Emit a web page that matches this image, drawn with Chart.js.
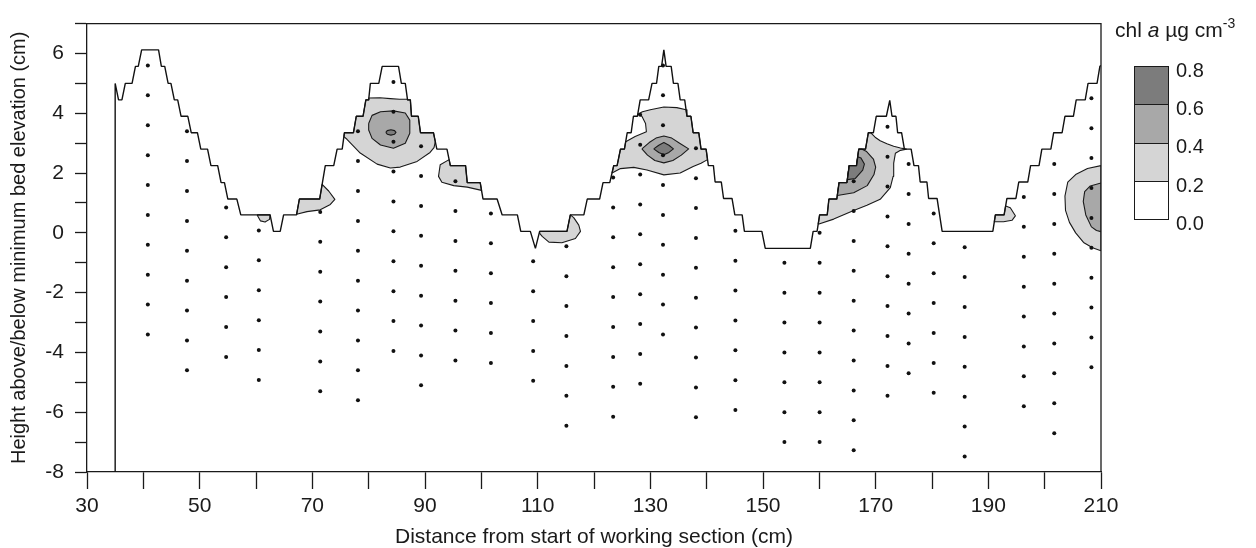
<!DOCTYPE html>
<html>
<head>
<meta charset="utf-8">
<script src="https://cdn.jsdelivr.net/npm/chart.js@4.4.1/dist/chart.umd.min.js"></script>
<style>
  html, body { margin: 0; padding: 0; background: #fff; }
  #wrap { position: relative; width: 1256px; height: 548px; font-family: "Liberation Sans", Arial, Helvetica, sans-serif; color: #1a1a1a; }
  #chart { position: absolute; left: 0; top: 0; }
  .leg-title { position: absolute; left: 1115px; top: 19px; font-size: 21px; line-height: 1; white-space: nowrap; }
  .leg-title sup { font-size: 14px; vertical-align: 0; position: relative; top: -9px; }
  .swatch { position: absolute; left: 1134px; width: 35px; box-sizing: border-box; border: 1.3px solid #1a1a1a; }
  .leg-label { position: absolute; left: 1176px; font-size: 20px; line-height: 1; }
</style>
</head>
<body>
<div id="wrap">
  <canvas id="chart" width="1256" height="548"></canvas>
  <div class="leg-title">chl <i>a</i> µg cm<sup>-3</sup></div>
  <div class="swatch" style="top:66px;height:39px;background:#7c7c7c"></div>
  <div class="swatch" style="top:104px;height:40px;background:#a8a8a8"></div>
  <div class="swatch" style="top:143px;height:39px;background:#d5d5d5"></div>
  <div class="swatch" style="top:181px;height:39px;background:#ffffff"></div>
  <div class="leg-label" style="top:60px">0.8</div>
  <div class="leg-label" style="top:98px">0.6</div>
  <div class="leg-label" style="top:136px">0.4</div>
  <div class="leg-label" style="top:175px">0.2</div>
  <div class="leg-label" style="top:213px">0.0</div>
</div>
<script>
// ==================== DATA ====================

// bed surface profile, [distance cm, height cm]
const bedProfile = [
  [35,-8],[35,5.0],[35.6,4.45],[36.2,4.45],[36.8,5.0],[38.0,5.0],[38.6,5.57],[39.1,5.57],[39.7,6.12],[42.7,6.12],
  [43.2,5.57],[43.8,5.57],[44.4,5.0],[44.9,5.0],[45.5,4.45],[46.1,4.45],[46.7,3.9],[47.9,3.9],[48.5,3.35],[49.6,3.35],
  [50.2,2.8],[51.4,2.8],[52.0,2.25],[53.2,2.25],[53.8,1.68],[54.4,1.68],[55.0,1.13],[56.6,1.13],[57.3,0.6],[62.5,0.6],
  [63.1,0.05],[64.3,0.05],[64.9,0.6],[67.2,0.6],[67.7,1.13],[71.3,1.13],[72.3,2.25],[73.8,2.25],[74.4,2.8],[75.3,2.8],
  [75.7,3.35],[77.3,3.35],[77.8,3.9],[79.0,3.9],[79.5,4.45],[80.0,4.45],[80.3,5.0],[81.8,5.0],[82.4,5.57],[85.3,5.57],
  [85.8,5.0],[86.5,5.0],[86.9,4.45],[87.4,4.45],[87.6,3.9],[88.8,3.9],[89.2,3.35],[91.5,3.35],[92.1,2.8],[93.9,2.8],
  [94.5,2.25],[97.2,2.25],[97.5,1.68],[99.8,1.68],[100.3,1.13],[102.8,1.13],[103.7,0.6],[106.4,0.6],[107.0,0.05],[108.7,0.05],
  [109.6,-0.52],[110.35,0.05],[115.2,0.05],[115.8,0.6],[118.2,0.6],[118.8,1.13],[121.0,1.13],[121.6,1.68],[122.8,1.68],[123.5,2.25],
  [124.1,2.25],[124.7,2.8],[125.4,2.8],[125.9,3.35],[126.6,3.35],[127.0,3.9],[127.7,3.9],[128.2,4.45],[129.7,4.45],[130.3,5.0],
  [131.1,5.0],[131.5,5.57],[132.0,5.57],[132.4,6.12],[132.8,5.57],[133.7,5.57],[134.1,5.0],[134.9,5.0],[135.3,4.45],[136.1,4.45],
  [136.5,3.9],[137.2,3.9],[137.6,3.35],[138.6,3.35],[139.0,2.8],[139.9,2.8],[140.3,2.25],[141.2,2.25],[141.5,1.7],[142.6,1.7],
  [143.0,1.15],[144.5,1.15],[145.0,0.6],[146.3,0.6],[146.7,0.05],[149.8,0.05],[150.4,-0.52],[158.4,-0.52],[158.9,0.05],[159.6,0.05],
  [160.05,0.6],[161.4,0.6],[161.7,1.13],[163.1,1.13],[163.5,1.68],[164.9,1.68],[165.3,2.25],[166.6,2.25],[167.0,2.8],[168.2,2.8],
  [168.7,3.35],[169.6,3.35],[170.1,3.9],[171.9,3.9],[172.5,4.43],[172.9,3.9],[173.6,3.9],[173.9,3.35],[174.6,3.35],[175.1,2.8],
  [176.3,2.8],[176.8,2.25],[177.6,2.25],[177.9,1.7],[179.1,1.7],[179.4,1.15],[180.9,1.15],[181.8,0.05],[190.8,0.05],[191.25,0.6],
  [192.8,0.6],[193.3,1.15],[194.9,1.15],[195.4,1.7],[197.0,1.7],[197.5,2.25],[199.0,2.25],[199.5,2.8],[201.1,2.8],[201.6,3.35],
  [203.1,3.35],[203.6,3.9],[205.1,3.9],[205.6,4.45],[207.2,4.45],[207.7,5.0],[209.3,5.0],[209.8,5.57],[210,5.6]
];

// sampling positions: one x per core column, heights listed top to bottom
const coreX = [40.8, 47.75, 54.7, 60.5, 71.4, 78.1, 84.4, 89.3, 95.4, 101.7, 109.2, 115.1, 123.4, 128.2,
               132.25, 138.1, 145.1, 153.8, 160.05, 166.1, 172.1, 175.85, 180.3, 185.8, 196.3, 201.7, 208.3];
const coreY = [
  [5.6, 4.6, 3.6, 2.6, 1.6, 0.6, -0.4, -1.4, -2.4, -3.4],
  [3.4, 2.4, 1.4, 0.4, -0.6, -1.6, -2.6, -3.6, -4.6],
  [0.85, -0.15, -1.15, -2.15, -3.15, -4.15],
  [0.08, -0.92, -1.92, -2.92, -3.92, -4.92],
  [0.7, -0.3, -1.3, -2.3, -3.3, -4.3, -5.3],
  [3.4, 2.4, 1.4, 0.4, -0.6, -1.6, -2.6, -3.6, -4.6, -5.6],
  [5.05, 4.05, 3.05, 2.05, 1.05, 0.05, -0.95, -1.95, -2.95, -3.95],
  [2.9, 1.9, 0.9, -0.1, -1.1, -2.1, -3.1, -4.1, -5.1],
  [1.73, 0.73, -0.27, -1.27, -2.27, -3.27, -4.27],
  [0.65, -0.35, -1.35, -2.35, -3.35, -4.35],
  [-0.95, -1.95, -2.95, -3.95, -4.95],
  [-0.45, -1.45, -2.45, -3.45, -4.45, -5.45, -6.45],
  [1.85, 0.85, -0.15, -1.15, -2.15, -3.15, -4.15, -5.15, -6.15],
  [3.95, 2.95, 1.95, 0.95, -0.05, -1.05, -2.05, -3.05, -4.05, -5.05],
  [5.6, 4.6, 3.6, 2.6, 1.6, 0.6, -0.4, -1.4, -2.4, -3.4],
  [2.83, 1.83, 0.83, -0.17, -1.17, -2.17, -3.17, -4.17, -5.17, -6.17],
  [0.07, -0.93, -1.93, -2.93, -3.93, -4.93, -5.93],
  [-1, -2, -3, -4, -5, -6, -7],
  [0, -1, -2, -3, -4, -5, -6, -7],
  [1.73, 0.73, -0.27, -1.27, -2.27, -3.27, -4.27, -5.27, -6.27, -7.27],
  [3.55, 2.55, 1.55, 0.55, -0.45, -1.45, -2.45, -3.45, -4.45, -5.45],
  [2.3, 1.3, 0.3, -0.7, -1.7, -2.7, -3.7, -4.7],
  [0.65, -0.35, -1.35, -2.35, -3.35, -4.35, -5.35],
  [-0.48, -1.48, -2.48, -3.48, -4.48, -5.48, -6.48, -7.48],
  [1.2, 0.2, -0.8, -1.8, -2.8, -3.8, -4.8, -5.8],
  [2.3, 1.3, 0.3, -0.7, -1.7, -2.7, -3.7, -4.7, -5.7, -6.7],
  [4.5, 3.5, 2.5, 1.5, 0.5, -0.5, -1.5, -2.5, -3.5, -4.5]
];

// contour bands (chl a, µg cm-3)
const band02 = [   // 0.2 - 0.4
  [[60.2,0.6],[62.5,0.6],[62.4,0.45],[61.6,0.36],[60.8,0.4],[60.2,0.6]],
  [[67.2,0.62],[67.7,1.13],[71.3,1.13],[71.74,1.62],[72.9,1.4],[74.0,1.12],[73.2,0.95],[71.4,0.77],[69.05,0.71],[67.2,0.62]],
  [[75.6,3.22],[75.7,3.35],[77.3,3.35],[77.8,3.9],[79.0,3.9],[79.5,4.45],[80.0,4.45],[80.03,4.51],[82.0,4.52],[83.85,4.49],
   [85.5,4.47],[86.88,4.47],[86.9,4.45],[87.4,4.45],[87.6,3.9],[88.8,3.9],[89.2,3.35],[91.5,3.35],[91.83,3.05],[91.6,2.85],
   [90.9,2.69],[88.6,2.39],[85.6,2.2],[83.85,2.17],[81.5,2.3],[78.5,2.67],[76.15,3.13],[75.6,3.22]],
  [[94.28,2.45],[92.7,2.28],[92.4,1.89],[93.0,1.69],[95.1,1.58],[97.5,1.53],[100.04,1.42],[99.8,1.68],[97.5,1.68],[97.2,2.25],
   [94.5,2.25],[94.28,2.45]],
  [[110.29,0.0],[110.35,0.05],[115.2,0.05],[115.8,0.6],[116.4,0.51],[117.3,0.26],[117.6,0.05],[116.7,-0.19],[114.3,-0.33],
   [112.0,-0.31],[110.8,-0.12],[110.29,0.0]],
  [[123.2,2.0],[123.5,2.25],[124.1,2.25],[124.7,2.8],[125.4,2.8],[125.63,3.05],[127.3,3.22],[129.3,3.38],[129.15,3.66],
   [128.5,3.9],[127.76,3.97],[128.6,4.05],[130.0,4.12],[132.4,4.21],[134.7,4.19],[136.34,4.12],[136.5,3.9],[137.2,3.9],
   [137.6,3.35],[138.6,3.35],[139.0,2.8],[139.9,2.8],[140.15,2.45],[139.0,2.33],[137.6,2.22],[135.3,2.0],[132.4,1.94],
   [129.4,2.1],[127.05,2.19],[124.7,2.15],[123.2,2.0]],
  [[159.8,0.29],[162.55,0.46],[166.1,0.75],[168.45,0.92],[170.8,1.12],[172.6,1.51],[173.1,1.89],[173.2,2.33],[173.5,2.66],
   [174.4,2.76],[175.45,2.8],[174.4,2.84],[173.2,2.9],[172.0,2.98],[170.8,3.08],[169.9,3.2],[169.1,3.35],[168.7,3.35],
   [168.2,2.8],[167.0,2.8],[166.6,2.25],[165.3,2.25],[164.9,1.68],[163.5,1.68],[163.1,1.13],[161.7,1.13],[161.4,0.6],
   [160.05,0.6],[159.8,0.29]],
  [[191.06,0.37],[191.25,0.6],[192.8,0.6],[193.07,0.9],[193.9,0.84],[194.8,0.57],[194.2,0.42],[192.7,0.37],[191.06,0.37]],
  [[210,2.25],[207.6,2.15],[205.5,1.95],[204.1,1.7],[203.6,1.23],[203.7,0.75],[204.4,0.35],[205.5,0.0],[206.9,-0.32],
   [208.5,-0.5],[210,-0.6],[210,2.25]]
];
const band04 = [   // 0.4 - 0.6
  [[80.0,3.66],[80.6,3.93],[82.1,4.05],[84.4,4.08],[86.5,4.01],[87.3,3.77],[87.3,3.33],[86.5,3.0],[84.4,2.83],[82.1,2.94],
   [80.6,3.16],[80.0,3.44],[80.0,3.66]],
  [[128.5,2.81],[129.8,3.02],[131.0,3.17],[132.4,3.24],[133.8,3.17],[135.2,3.0],[136.8,2.81],[135.5,2.6],[134.0,2.42],
   [132.4,2.34],[130.8,2.42],[129.5,2.6],[128.5,2.81]],
  [[163.19,1.25],[166.1,1.34],[168.5,1.58],[169.7,1.95],[170.0,2.2],[169.6,2.47],[168.4,2.72],[167.6,2.8],[167.0,2.8],
   [166.6,2.25],[165.3,2.25],[164.9,1.68],[163.5,1.68],[163.19,1.25]],
  [[210,1.67],[208.1,1.57],[207.1,1.38],[206.85,1.05],[207.3,0.6],[208.3,0.2],[209.2,0.08],[210,0.04],[210,1.67]]
];
const band06 = [   // 0.6 - 0.8
  [[83.05,3.36],[83.3,3.42],[83.95,3.45],[84.6,3.42],[84.85,3.36],[84.6,3.3],[83.95,3.27],[83.3,3.3],[83.05,3.36]],
  [[130.6,2.81],[131.5,2.93],[132.4,3.02],[133.3,2.93],[134.1,2.81],[133.3,2.69],[132.4,2.61],[131.5,2.69],[130.6,2.81]],
  [[164.97,1.78],[166.4,1.82],[167.7,2.1],[168.0,2.3],[167.4,2.5],[166.82,2.55],[166.6,2.25],[165.3,2.25],[164.97,1.78]]
];

const bandColors = ['#d5d5d5', '#a8a8a8', '#7c7c7c'];

// ==================== CHART ====================

Chart.defaults.font.family = "'Liberation Sans', Arial, Helvetica, sans-serif";
Chart.defaults.color = '#1a1a1a';

const toXY = pairs => pairs.map(([x, y]) => ({ x, y }));

function bandDatasets(polys, color, order) {
  return polys.map(p => ({
    data: toXY(p),
    showLine: true,
    fill: 'shape',
    backgroundColor: color,
    borderColor: '#1a1a1a',
    borderWidth: 1.1,
    borderJoinStyle: 'round',
    pointRadius: 0,
    order: order
  }));
}

const coreData = [];
coreX.forEach((x, i) => coreY[i].forEach(y => coreData.push({ x, y })));

// top and right edge of the plot frame
const frame = {
  id: 'frame',
  afterDatasetsDraw(chart) {
    const { ctx, chartArea: a } = chart;
    ctx.save();
    ctx.strokeStyle = '#1a1a1a';
    ctx.lineWidth = 1.3;
    ctx.beginPath();
    ctx.moveTo(a.left, a.top);
    ctx.lineTo(a.right, a.top);
    ctx.lineTo(a.right, a.bottom);
    ctx.stroke();
    ctx.restore();
  }
};

new Chart(document.getElementById('chart').getContext('2d'), {
  type: 'scatter',
  data: {
    datasets: [
      {
        data: coreData,
        pointRadius: 2,
        pointBackgroundColor: '#111',
        pointBorderWidth: 0,
        order: 0
      },
      {
        data: toXY(bedProfile),
        showLine: true,
        fill: false,
        borderColor: '#111',
        borderWidth: 1.4,
        borderJoinStyle: 'bevel',
        pointRadius: 0,
        order: 1
      },
      ...bandDatasets(band06, bandColors[2], 2),
      ...bandDatasets(band04, bandColors[1], 3),
      ...bandDatasets(band02, bandColors[0], 4)
    ]
  },
  options: {
    responsive: false,
    animation: false,
    events: [],
    layout: { padding: { left: 0, right: 155, top: 19, bottom: 0 } },
    plugins: { legend: { display: false }, tooltip: { enabled: false } },
    scales: {
      x: {
        type: 'linear',
        min: 30,
        max: 210,
        afterFit: s => { s.height = 76; },
        ticks: {
          stepSize: 10,
          autoSkip: false,
          maxRotation: 0,
          padding: 5,
          color: '#1a1a1a',
          font: { size: 21 },
          callback: v => ((v - 30) % 20 === 0 ? v : '')
        },
        grid: { drawOnChartArea: false, tickLength: 17, tickColor: '#1a1a1a', tickWidth: 1.3 },
        border: { color: '#1a1a1a', width: 1.3 },
        title: {
          display: true,
          text: 'Distance from start of working section (cm)',
          color: '#1a1a1a',
          font: { size: 21, lineHeight: 1 },
          padding: { top: 0, bottom: 0 }
        }
      },
      y: {
        type: 'linear',
        min: -8,
        max: 7,
        afterFit: s => { s.width = 87; },
        ticks: {
          stepSize: 1,
          autoSkip: false,
          padding: 11,
          color: '#1a1a1a',
          font: { size: 21 },
          callback: v => (v % 2 === 0 ? v : '')
        },
        grid: { drawOnChartArea: false, tickLength: 12, tickColor: '#1a1a1a', tickWidth: 1.3 },
        border: { color: '#1a1a1a', width: 1.3 },
        title: {
          display: true,
          text: 'Height above/below minimum bed elevation (cm)',
          color: '#1a1a1a',
          font: { size: 20, lineHeight: 1 },
          padding: { top: 9, bottom: 0 }
        }
      }
    }
  },
  plugins: [frame]
});
</script>
</body>
</html>
